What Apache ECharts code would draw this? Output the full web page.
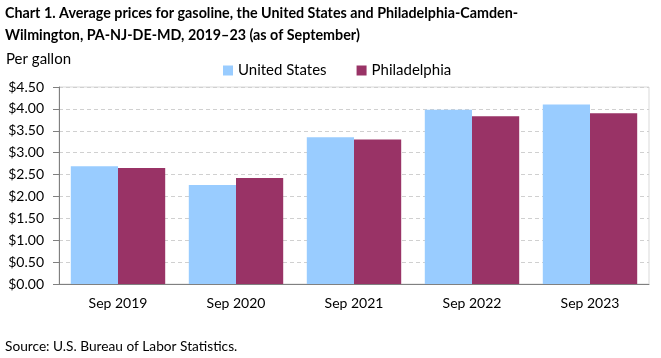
<!DOCTYPE html>
<html><head><meta charset="utf-8">
<script src="https://cdn.jsdelivr.net/npm/echarts@6/dist/echarts.min.js"></script>
<style>html,body{margin:0;padding:0;background:#fff}#c{width:661px;height:358px}</style>
</head><body><div id="c"></div>
<script>
const categories = ['Sep 2019', 'Sep 2020', 'Sep 2021', 'Sep 2022', 'Sep 2023'];
const usValues = [2.69, 2.26, 3.35, 3.98, 4.10];
const phillyValues = [2.65, 2.42, 3.30, 3.83, 3.90];
const seriesNames = ['United States', 'Philadelphia'];
const FONT = 'Lato';
const chart = echarts.init(document.getElementById('c'));
chart.setOption({
  animation: false,
  textStyle: { fontFamily: FONT },
  title: [{
    text: 'Chart 1. Average prices for gasoline, the United States and Philadelphia-Camden-\nWilmington, PA-NJ-DE-MD, 2019\u201323 (as of September)',
    left: 5, top: 2, padding: 0,
    textStyle: { fontFamily: FONT, fontSize: 14.3, fontWeight: 'bold', color: '#000', lineHeight: 22 }
  }, {
    text: 'Per gallon', left: 6, top: 52, padding: 0,
    textStyle: { fontFamily: FONT, fontSize: 15, fontWeight: 'normal', color: '#000' }
  }, {
    text: 'Source: U.S. Bureau of Labor Statistics.', left: 5, top: 340, padding: 0,
    textStyle: { fontFamily: FONT, fontSize: 13.7, fontWeight: 'normal', color: '#000' }
  }],
  legend: {
    data: seriesNames, top: 63, left: 223, padding: 0,
    itemWidth: 10, itemHeight: 10, itemGap: 30,
    icon: 'rect',
    textStyle: { fontFamily: FONT, fontSize: 15, color: '#000' }
  },
  grid: { left: 59, right: 12, top: 87, bottom: 74, show: true, borderColor: '#d9d9d9', borderWidth: 1 },
  xAxis: {
    type: 'category', data: categories,
    axisLine: { lineStyle: { color: '#808080' } },
    axisTick: { show: false },
    axisLabel: { color: '#000', fontSize: 14, margin: 12, fontFamily: FONT }
  },
  yAxis: {
    type: 'value', min: 0, max: 4.5, interval: 0.5,
    axisLine: { show: true, lineStyle: { color: '#808080' } },
    axisTick: { show: true, length: 6, lineStyle: { color: '#808080' } },
    splitLine: { lineStyle: { color: '#d0d0d0', type: [4, 3] } },
    axisLabel: { color: '#000', fontSize: 14, margin: 15, fontFamily: FONT, formatter: v => '$' + v.toFixed(2) }
  },
  series: [{
    name: seriesNames[0], type: 'bar', data: usValues, barGap: '0%', barCategoryGap: '20%',
    itemStyle: { color: '#99ccff' }
  }, {
    name: seriesNames[1], type: 'bar', data: phillyValues,
    itemStyle: { color: '#993366' }
  }]
});
</script></body></html>
